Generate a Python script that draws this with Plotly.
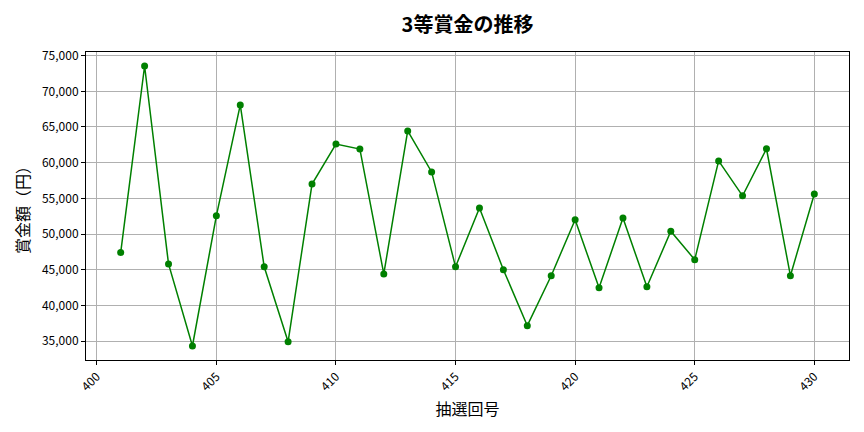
import plotly.graph_objects as go

draws = list(range(401, 431))
prize = [47400, 73550, 45800, 34300, 52550, 68100, 45400, 34900, 57000, 62600,
         61900, 44400, 64450, 58700, 45400, 53650, 45000, 37150, 44150, 52000,
         42450, 52250, 42600, 50400, 46400, 60250, 55350, 61950, 44150, 55600]
xticks = [400, 405, 410, 415, 420, 425, 430]
yticks = [35000, 40000, 45000, 50000, 55000, 60000, 65000, 70000, 75000]
ytick_text = [f"{v:,}" for v in yticks]

title = "3等賞金の推移"
xlabel = "抽選回号"
ylabel = "賞金額（円）"

xmin, xmax = min(draws), max(draws)
xm = (xmax - xmin) * 0.05
ymin, ymax = min(prize), max(prize)
ym = (ymax - ymin) * 0.05

FONT = "Noto Sans CJK JP"
# page body has an 8px margin; size the figure to fit the 864x432 window
W, H = 856, 424

fig = go.Figure()
fig.add_trace(go.Scatter(
    x=draws, y=prize, mode="lines+markers",
    line=dict(color="#008000", width=1.5),
    marker=dict(color="#008000", size=7),
    showlegend=False,
))

axis_common = dict(
    showgrid=True, gridcolor="#b0b0b0", gridwidth=0.8,
    showline=True, linecolor="#000000", linewidth=1, mirror=True,
    ticks="outside", ticklen=4, tickcolor="#000000",
    tickfont=dict(family=FONT, size=12, color="#000000"),
    zeroline=False, automargin=False,
)

fig.update_layout(
    width=W, height=H,
    margin=dict(l=78, r=15, t=44, b=72),
    paper_bgcolor="white", plot_bgcolor="white",
    font=dict(family=FONT, color="#000000"),
    title=dict(text=f"<b>{title}</b>", x=(78 + (W - 15)) / 2 / W, xanchor="center",
               y=1 - 17 / H, yanchor="middle", font=dict(family=FONT, size=20, color="#000000")),
    xaxis=dict(range=[xmin - xm, xmax + xm], tickvals=xticks, tickangle=-45,
               title=dict(text=xlabel, font=dict(family=FONT, size=16, color="#000000"), standoff=10),
               **axis_common),
    yaxis=dict(range=[ymin - ym, ymax + ym], tickvals=yticks, ticktext=ytick_text,
               title=dict(text=ylabel, font=dict(family=FONT, size=16, color="#000000"), standoff=8),
               **axis_common),
)

fig.write_html("out.html")
